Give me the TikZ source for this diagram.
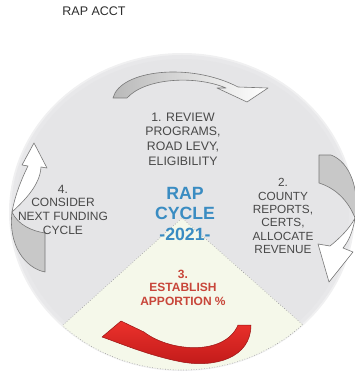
\documentclass[tikz,border=0pt]{standalone}
\usepackage{fontspec}
\setmainfont{Liberation Sans}
\definecolor{txtgray}{RGB}{72,72,72}
\definecolor{titlegray}{RGB}{45,45,45}
\definecolor{rapblue}{RGB}{58,140,194}
\definecolor{rapred}{RGB}{200,70,58}
\definecolor{circfill}{RGB}{229,229,231}
\definecolor{circedge}{RGB}{240,240,241}
\definecolor{sectfill}{RGB}{245,248,234}
\definecolor{arrgray}{RGB}{120,120,120}
\definecolor{crescent}{RGB}{200,200,200}
\definecolor{redlight}{RGB}{236,50,44}
\definecolor{reddark}{RGB}{190,24,24}
\begin{document}
\begin{tikzpicture}[x=1pt,y=-1pt,
  txt/.style={font=\fontsize{12}{14.2}\selectfont, text=txtgray, align=center, inner sep=0pt},
  arrline/.style={draw=arrgray, line width=0.6pt, line join=round},
  redarr/.style={draw=reddark!80!black, line width=0.5pt, line join=round},
  sectline/.style={draw=gray!80, dotted, line width=0.6pt}]
\useasboundingbox (0,0) rectangle (355,377);
% background circle
\coordinate (c) at (182,212);
\fill[circedge] (c) ellipse [x radius=173, y radius=159];
\fill[circfill!70!circedge] (c) ellipse [x radius=171, y radius=157];
\fill[circfill] (c) ellipse [x radius=167, y radius=153];
% sector 3
\coordinate (apex) at (182,218);
\coordinate (sl) at (63,325);
\coordinate (sr) at (303,325);
\coordinate (fl) at (-20,400);
\coordinate (fr) at (388,400);
\begin{scope}
  \clip (c) ellipse [x radius=172, y radius=158];
  \fill[sectfill] (apex) -- (fl) -- (fr) -- cycle;
\end{scope}
\begin{scope}
  \clip (apex) -- (fl) -- (fr) -- cycle;
  \draw[sectline] (c) ellipse [x radius=172, y radius=158];
\end{scope}
\draw[sectline] (sl) -- (apex) -- (sr);
% top arrow (1)
\draw[arrline, left color=gray!55, right color=white]
  (113,98) .. controls (120,70) and (190,62) .. (238,87)
  -- (268,88) -- (247,102) -- (217,88) -- (226,88)
  .. controls (195,75) and (145,78) .. (127,98) -- cycle;
% right arrow (2)
\draw[arrline, fill=white]
  (355,218) .. controls (353,232) and (348,242) .. (343,248)
  -- (353,252) -- (329,282) -- (318,244) -- (330,246)
  .. controls (340,238) and (350,228) .. (355,218) -- cycle;
\draw[arrline, fill=crescent]
  (319,155) -- (331,155) .. controls (350,162) and (360,190) .. (355,218)
  .. controls (348,200) and (335,188) .. (319,183) -- cycle;
% left arrow (4)
\draw[arrline, fill=white]
  (12,212) .. controls (15,195) and (22,178) .. (28,166)
  -- (22,165) -- (34,143) -- (47,168) -- (41,167)
  .. controls (40,185) and (25,200) .. (12,212) -- cycle;
\draw[arrline, fill=crescent]
  (45,233) -- (45,272) .. controls (25,268) and (8,245) .. (12,212)
  .. controls (18,225) and (32,231) .. (45,233) -- cycle;
% red arrow (3)
\draw[redarr, top color=redlight, bottom color=reddark]
  (251,325) .. controls (251,358) and (215,368) .. (182,362)
  .. controls (150,356) and (122,344) .. (102,337)
  -- (121,321) -- (144,332)
  .. controls (170,352) and (225,356) .. (238,325) -- cycle;
% texts
\node[font=\fontsize{12.5}{15}\selectfont, text=titlegray, inner sep=0pt] (title) at (94,11) {RAP ACCT};
\node[txt, font=\fontsize{12.3}{14.6}\selectfont] (s1) at (183,139) {1. REVIEW\\PROGRAMS,\\ROAD LEVY,\\ELIGIBILITY};
\node[txt, font=\fontsize{11.8}{13.3}\selectfont] (s2) at (283,216) {2.\\COUNTY\\REPORTS,\\CERTS,\\ALLOCATE\\REVENUE};
\node[txt, font=\fontsize{12}{13.7}\selectfont] (s4) at (63,209.5) {4.\\CONSIDER\\NEXT FUNDING\\CYCLE};
\node[txt, font=\bfseries\fontsize{17.7}{20.5}\selectfont, text=rapblue] (cyc) at (185,213.5) {RAP\\CYCLE\\-2021-};
\node[txt, font=\bfseries\fontsize{12}{13.6}\selectfont, text=rapred] (s3) at (183,287.5) {3.\\ESTABLISH\\APPORTION \%};
\end{tikzpicture}
\end{document}
